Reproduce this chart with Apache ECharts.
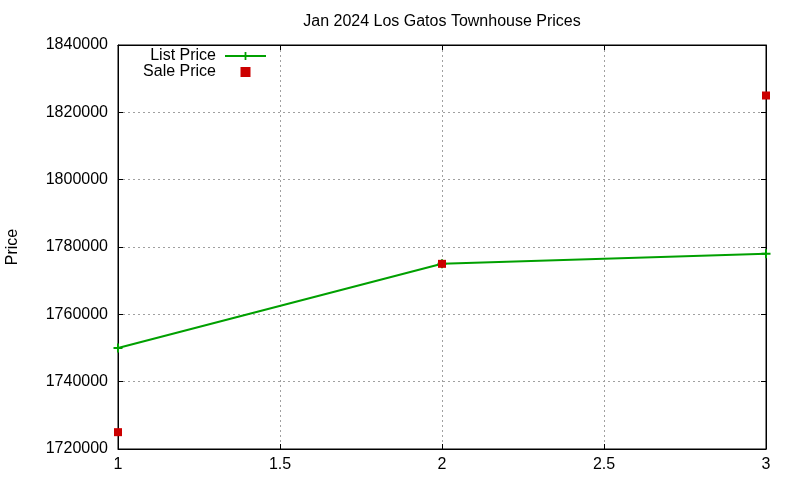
<!DOCTYPE html>
<html>
<head>
    <meta charset="UTF-8">
    <title>Jan 2024 Los Gatos Townhouse Prices</title>
    <script src="https://cdn.jsdelivr.net/npm/echarts@6/dist/echarts.min.js"></script>
    <style type="text/css">
        html, body {
            margin: 0;
            padding: 0;
            background: #ffffff;
        }
        #chart {
            width: 800px;
            height: 480px;
        }
    </style>
</head>
<body>
<div id="chart"></div>
<script>
    // values
    let x_list = [1, 2, 3];
    let list_price = [1750000, 1775000, 1778000];
    let sale_price = [1725000, 1775000, 1825000];

    const FONT = 'Liberation Sans, Arial, sans-serif';
    const PLUS = 'path://M3.5,0H5.5V3.5H9V5.5H5.5V9H3.5V5.5H0V3.5H3.5Z';
    const SQUARE = 'path://M0,0H1V1H0Z';

    function pairs(xs, ys) {
        let out = [];
        for (let i = 0; i < xs.length; i++) {
            out.push([xs[i], ys[i]]);
        }
        return out;
    }

    let myChart = echarts.init(document.getElementById('chart'));

    let gridLine = {
        show: true,
        lineStyle: { color: '#a0a0a0', width: 1, type: [2, 3] }
    };
    let frameLine = { show: true, onZero: false, lineStyle: { color: '#000', width: 1 } };
    let tickIn = { show: true, inside: true, length: 5, lineStyle: { color: '#000', width: 1 } };

    let option = {
        animation: false,
        textStyle: { fontFamily: FONT },
        title: {
            text: 'Jan 2024 Los Gatos Townhouse Prices',
            left: 442,
            top: 14,
            padding: 0,
            textAlign: 'center',
            textStyle: { fontSize: 16, fontWeight: 'normal', color: '#000', fontFamily: FONT }
        },
        legend: {
            orient: 'vertical',
            align: 'right',
            right: 533,
            top: 48,
            padding: 0,
            itemWidth: 41,
            itemHeight: 10,
            itemGap: 0,
            symbolKeepAspect: true,
            textStyle: { fontSize: 16, lineHeight: 15, color: '#000', fontFamily: FONT, padding: [0, 4, 0, 0] },
            data: [
                { name: 'List Price' },
                { name: 'Sale Price', icon: SQUARE, itemStyle: { borderWidth: 0 } }
            ]
        },
        grid: {
            left: 118,
            right: 34,
            top: 45,
            bottom: 31,
            containLabel: false,
            outerBoundsMode: 'none',
            show: true,
            borderColor: '#000',
            borderWidth: 1
        },
        xAxis: [
            {
                type: 'value',
                min: 1,
                max: 3,
                interval: 0.5,
                axisLine: frameLine,
                axisTick: tickIn,
                axisLabel: {
                    margin: 8, fontSize: 16, color: '#000', fontFamily: FONT,
                    alignMinLabel: 'center', alignMaxLabel: 'center'
                },
                splitLine: gridLine
            },
            {
                type: 'value',
                position: 'top',
                min: 1,
                max: 3,
                interval: 0.5,
                axisLine: frameLine,
                axisTick: tickIn,
                axisLabel: { show: false },
                splitLine: { show: false }
            }
        ],
        yAxis: [
            {
                type: 'value',
                min: 1720000,
                max: 1840000,
                interval: 20000,
                name: 'Price',
                nameLocation: 'middle',
                nameGap: 97,
                nameTextStyle: { fontSize: 16, color: '#000', fontFamily: FONT },
                axisLine: frameLine,
                axisTick: tickIn,
                axisLabel: {
                    margin: 10, fontSize: 16, color: '#000', fontFamily: FONT,
                    verticalAlignMinLabel: 'middle', verticalAlignMaxLabel: 'middle',
                    formatter: function (v) { return String(v); }
                },
                splitLine: gridLine
            },
            {
                type: 'value',
                position: 'right',
                min: 1720000,
                max: 1840000,
                interval: 20000,
                axisLine: frameLine,
                axisTick: tickIn,
                axisLabel: { show: false },
                splitLine: { show: false }
            }
        ],
        series: [
            {
                name: 'List Price',
                type: 'line',
                data: pairs(x_list, list_price),
                symbol: PLUS,
                symbolSize: 9,
                showAllSymbol: true,
                itemStyle: { color: '#00a000' },
                lineStyle: { color: '#00a000', width: 2 }
            },
            {
                name: 'Sale Price',
                type: 'scatter',
                data: pairs(x_list, sale_price),
                symbol: 'rect',
                symbolSize: 8,
                itemStyle: { color: '#cc0000', opacity: 1 },
                z: 3
            }
        ]
    };
    myChart.setOption(option);
</script>
</body>
</html>
